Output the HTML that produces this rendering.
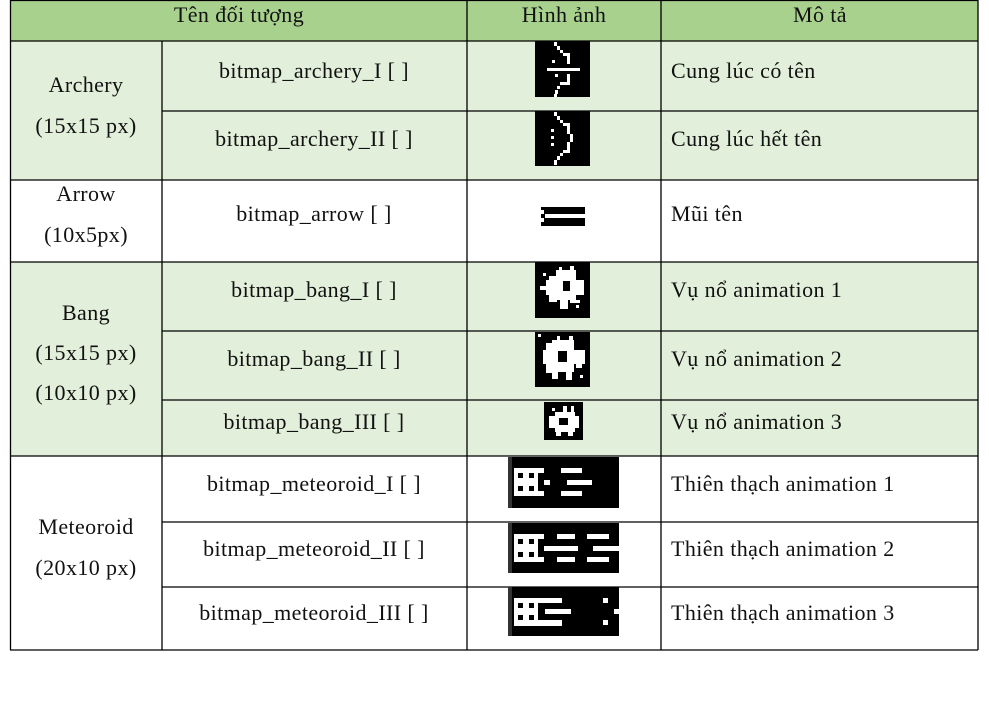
<!DOCTYPE html>
<html><head><meta charset="utf-8"><style>
html,body{margin:0;padding:0;background:#fff;width:989px;height:713px;overflow:hidden}
svg text{font-family:"Liberation Serif",serif;font-size:22px;letter-spacing:0.4px;fill:#111}
</style></head><body>
<svg width="989" height="713" viewBox="0 0 989 713" xmlns="http://www.w3.org/2000/svg">
<rect x="10" y="0" width="968" height="41" fill="#a9d18e"/>
<rect x="10" y="41" width="968" height="139" fill="#e2efda"/>
<rect x="10" y="262" width="968" height="194" fill="#e2efda"/>
<g stroke="#000" stroke-width="1.3" fill="none">
<line x1="10" y1="0.5" x2="978" y2="0.5"/>
<line x1="10" y1="41" x2="978" y2="41"/>
<line x1="162" y1="111" x2="978" y2="111"/>
<line x1="10" y1="180" x2="978" y2="180"/>
<line x1="10" y1="262" x2="978" y2="262"/>
<line x1="162" y1="331" x2="978" y2="331"/>
<line x1="162" y1="400" x2="978" y2="400"/>
<line x1="10" y1="456" x2="978" y2="456"/>
<line x1="162" y1="522" x2="978" y2="522"/>
<line x1="162" y1="587" x2="978" y2="587"/>
<line x1="10" y1="650" x2="978" y2="650"/>
<line x1="10.5" y1="0" x2="10.5" y2="650"/>
<line x1="162" y1="41" x2="162" y2="650"/>
<line x1="467" y1="0" x2="467" y2="650"/>
<line x1="661" y1="0" x2="661" y2="650"/>
<line x1="978" y1="0" x2="978" y2="650"/>
</g>
<g text-anchor="middle">
<text x="239" y="22">Tên đối tượng</text>
<text x="564" y="22">Hình ảnh</text>
<text x="820" y="22">Mô tả</text>
<text x="86" y="92">Archery</text>
<text x="86" y="133">(15x15 px)</text>
<text x="86" y="201">Arrow</text>
<text x="86" y="242">(10x5px)</text>
<text x="86" y="320">Bang</text>
<text x="86" y="360">(15x15 px)</text>
<text x="86" y="400">(10x10 px)</text>
<text x="86" y="534">Meteoroid</text>
<text x="86" y="575">(20x10 px)</text>
<text x="314" y="78">bitmap_archery_I [ ]</text>
<text x="314" y="146">bitmap_archery_II [ ]</text>
<text x="314" y="221">bitmap_arrow [ ]</text>
<text x="314" y="297">bitmap_bang_I [ ]</text>
<text x="314" y="366">bitmap_bang_II [ ]</text>
<text x="314" y="429">bitmap_bang_III [ ]</text>
<text x="314" y="491">bitmap_meteoroid_I [ ]</text>
<text x="314" y="556">bitmap_meteoroid_II [ ]</text>
<text x="314" y="620">bitmap_meteoroid_III [ ]</text>
</g>
<text x="671" y="78">Cung lúc có tên</text>
<text x="671" y="146">Cung lúc hết tên</text>
<text x="671" y="221">Mũi tên</text>
<text x="671" y="297">Vụ nổ animation 1</text>
<text x="671" y="366">Vụ nổ animation 2</text>
<text x="671" y="429">Vụ nổ animation 3</text>
<text x="671" y="491">Thiên thạch animation 1</text>
<text x="671" y="556">Thiên thạch animation 2</text>
<text x="671" y="620">Thiên thạch animation 3</text>
<!-- archery I -->
<rect x="535" y="41" width="55" height="56" fill="#000"/>
<g fill="#fff">
<rect x="554" y="42" width="3" height="4"/><rect x="557" y="46" width="3" height="4"/><rect x="560" y="50" width="3" height="3"/><rect x="563" y="53" width="7" height="3"/><rect x="567" y="56" width="3" height="8"/><rect x="552" y="60" width="3" height="3"/>
<rect x="547" y="68" width="33" height="3"/>
<rect x="555" y="74" width="3" height="3"/><rect x="567" y="74" width="3" height="8"/><rect x="560" y="82" width="10" height="3"/><rect x="557" y="86" width="3" height="3"/><rect x="555" y="90" width="3" height="4"/><rect x="554" y="94" width="3" height="3"/>
</g>
<!-- archery II -->
<rect x="535" y="111" width="55" height="55" fill="#000"/>
<g fill="#fff">
<rect x="554" y="112" width="3" height="4"/><rect x="557" y="116" width="3" height="4"/><rect x="560" y="120" width="3" height="3"/><rect x="563" y="123" width="7" height="3"/><rect x="567" y="126" width="3" height="8"/><rect x="570" y="134" width="3" height="8"/><rect x="567" y="142" width="3" height="8"/><rect x="563" y="150" width="7" height="3"/><rect x="560" y="153" width="3" height="3"/><rect x="557" y="156" width="3" height="4"/><rect x="554" y="160" width="3" height="5"/>
<rect x="551" y="129" width="3" height="3"/><rect x="551" y="136" width="3" height="3"/><rect x="551" y="143" width="3" height="3"/>
</g>
<!-- arrow -->
<rect x="541" y="207" width="44" height="19" fill="#000"/>
<g fill="#fff"><rect x="545" y="214" width="40" height="4"/><rect x="541" y="210" width="3" height="4"/><rect x="541" y="218" width="3" height="4"/></g>
<!-- bang I -->
<rect x="535" y="262" width="55" height="56" fill="#000"/>
<g fill="#fff">
<rect x="543" y="273" width="3" height="3"/><rect x="556" y="270" width="20" height="30"/><rect x="546" y="280" width="38" height="15"/><rect x="549" y="276" width="8" height="26"/><rect x="559" y="267" width="3" height="5"/><rect x="570" y="266" width="4" height="6"/><rect x="560" y="300" width="8" height="9"/><rect x="540" y="286" width="8" height="4"/><rect x="570" y="300" width="10" height="3"/><rect x="576" y="305" width="3" height="3"/>
</g>
<rect x="563" y="281" width="7" height="10" fill="#000"/>
<!-- bang II -->
<rect x="535" y="332" width="55" height="55" fill="#000"/>
<g fill="#fff">
<rect x="538" y="334" width="3" height="3"/><rect x="552" y="340" width="22" height="32"/><rect x="543" y="350" width="42" height="14"/><rect x="546" y="343" width="8" height="30"/><rect x="557" y="336" width="3" height="6"/><rect x="569" y="336" width="4" height="6"/><rect x="552" y="372" width="6" height="7"/><rect x="566" y="372" width="6" height="8"/><rect x="580" y="375" width="3" height="3"/><rect x="576" y="364" width="6" height="4"/>
</g>
<rect x="558" y="351" width="9" height="11" fill="#000"/>
<!-- bang III -->
<rect x="544" y="402" width="39" height="38" fill="#000"/>
<g fill="#fff">
<rect x="552" y="408" width="3" height="3"/><rect x="555" y="412" width="20" height="20"/><rect x="549" y="416" width="30" height="12"/><rect x="563" y="406" width="4" height="6"/><rect x="571" y="406" width="3" height="6"/><rect x="556" y="432" width="5" height="4"/><rect x="568" y="432" width="5" height="4"/>
</g>
<rect x="559" y="418" width="9" height="7" fill="#000"/>
<!-- meteoroid I -->
<rect x="508" y="457" width="111" height="51" fill="#000"/>
<rect x="508" y="457" width="4" height="51" fill="#333"/>
<g fill="#fff">
<rect x="514" y="468" width="30" height="28"/><rect x="544" y="480" width="6" height="5"/>
<rect x="561" y="468" width="21" height="5"/><rect x="567" y="480" width="25" height="5"/><rect x="561" y="491" width="21" height="5"/>
</g>
<g fill="#000"><rect x="518" y="473" width="5" height="5"/><rect x="529" y="473" width="5" height="5"/><rect x="518" y="486" width="5" height="5"/><rect x="529" y="486" width="5" height="5"/><rect x="538" y="473" width="6" height="18"/></g>
<!-- meteoroid II -->
<rect x="508" y="523" width="111" height="50" fill="#000"/>
<rect x="508" y="523" width="4" height="50" fill="#333"/>
<g fill="#fff">
<rect x="514" y="534" width="30" height="28"/><rect x="544" y="546" width="34" height="5"/>
<rect x="557" y="534" width="18" height="5"/><rect x="557" y="557" width="18" height="5"/>
<rect x="587" y="534" width="22" height="5"/><rect x="593" y="546" width="26" height="5"/><rect x="587" y="557" width="22" height="5"/>
</g>
<g fill="#000"><rect x="518" y="539" width="5" height="5"/><rect x="529" y="539" width="5" height="5"/><rect x="518" y="552" width="5" height="5"/><rect x="529" y="552" width="5" height="5"/><rect x="538" y="539" width="6" height="18"/></g>
<!-- meteoroid III -->
<rect x="508" y="587" width="111" height="49" fill="#000"/>
<rect x="508" y="587" width="4" height="49" fill="#333"/>
<g fill="#fff">
<rect x="514" y="598" width="48" height="28"/>
<rect x="603" y="598" width="5" height="5"/><rect x="614" y="609" width="5" height="5"/><rect x="603" y="620" width="5" height="5"/>
</g>
<g fill="#000"><rect x="518" y="603" width="5" height="5"/><rect x="529" y="603" width="5" height="5"/><rect x="518" y="615" width="5" height="5"/><rect x="529" y="615" width="5" height="5"/><rect x="538" y="603" width="24" height="17"/></g>
<rect x="545" y="609" width="26" height="5" fill="#fff"/>
</svg>
</body></html>
